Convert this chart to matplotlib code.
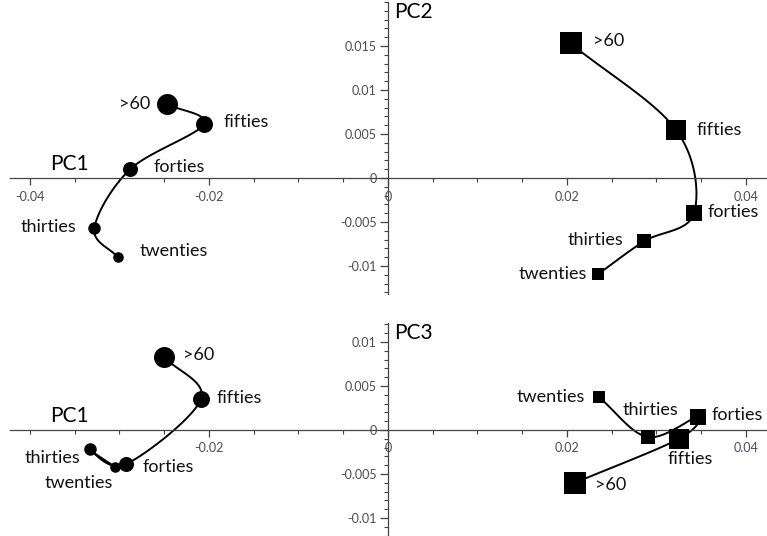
import numpy as np
import matplotlib.pyplot as plt
from matplotlib.ticker import MultipleLocator, FixedLocator, FuncFormatter

plt.rcParams['font.family'] = ['Lato', 'DejaVu Sans']

groups = ['twenties', 'thirties', 'forties', 'fifties', '>60']

# left cluster (circles)
circ_pc1 = [-0.0302, -0.0328, -0.0288, -0.0206, -0.0247]
circ_pc2 = [-0.0090, -0.0057, 0.0010, 0.0061, 0.0084]
circ_pc1b = [-0.0305, -0.0333, -0.0293, -0.0209, -0.0250]
circ_pc3 = [-0.0042, -0.0022, -0.0039, 0.0035, 0.0083]

# right cluster (squares)
sq_pc1 = [0.0235, 0.0286, 0.0342, 0.0322, 0.0204]
sq_pc2 = [-0.0109, -0.0072, -0.0040, 0.00545, 0.0153]
sq_pc1b = [0.0236, 0.0290, 0.0346, 0.0325, 0.0209]
sq_pc3 = [0.0037, -0.0008, 0.0015, -0.0010, -0.0060]

circ_size = [7.6, 9.0, 10.8, 12.2, 15.1]
sq_size = [8.2, 9.8, 12.2, 14.0, 16.0]

xticks_top = [-0.04, -0.02, 0, 0.02, 0.04]
xticks_bottom = [-0.02, 0, 0.02, 0.04]


def smooth(x, y, n=30):
    # catmull-rom through the points
    p = np.column_stack([x, y])
    p = np.vstack([2 * p[0] - p[1], p, 2 * p[-1] - p[-2]])
    out = []
    t = np.linspace(0, 1, n)[:, None]
    for i in range(1, len(p) - 2):
        p0, p1, p2, p3 = p[i - 1], p[i], p[i + 1], p[i + 2]
        seg = 0.5 * ((2 * p1) + (-p0 + p2) * t + (2 * p0 - 5 * p1 + 4 * p2 - p3) * t ** 2
                     + (-p0 + 3 * p1 - 3 * p2 + p3) * t ** 3)
        out.append(seg)
    out = np.vstack(out)
    return out[:, 0], out[:, 1]


def draw(ax, x, y, sizes, marker, offs):
    sx, sy = smooth(x, y)
    ax.plot(sx, sy, color='black', lw=1.4, zorder=2)
    for i in range(len(x)):
        ax.plot(x[i], y[i], marker=marker, ms=sizes[i], color='black', mew=0, zorder=3)
        dx, dy, ha = offs[i]
        ax.annotate(groups[i], (x[i], y[i]), xytext=(dx, dy), textcoords='offset pixels',
                    ha=ha, va='center', fontsize=13, color='#111111')


def setup(ax, ylim, xmajor, ymajor, ylabel):
    ax.set_xlim(-0.04223, 0.04235)
    ax.set_ylim(*ylim)
    for s in ['top', 'right']:
        ax.spines[s].set_visible(False)
    ax.spines['left'].set_position(('data', 0))
    ax.spines['bottom'].set_position(('data', 0))
    ax.spines['left'].set_color('#444444')
    ax.spines['bottom'].set_color('#444444')
    ax.spines['left'].set_linewidth(0.9)
    ax.spines['bottom'].set_linewidth(0.9)
    ax.set_facecolor('none')
    ax.xaxis.set_major_locator(FixedLocator(xmajor))
    ax.xaxis.set_minor_locator(MultipleLocator(0.005))
    ax.yaxis.set_major_locator(FixedLocator(ymajor))
    ax.yaxis.set_minor_locator(MultipleLocator(0.001))
    fmt = FuncFormatter(lambda v, p: '0' if abs(v) < 1e-9 else ('%g' % round(v, 4)))
    ax.xaxis.set_major_formatter(fmt)
    ax.yaxis.set_major_formatter(fmt)
    ax.tick_params(axis='x', which='major', direction='out', length=5, width=0.9,
                   labelsize=9, labelcolor='#4a4a5a', color='#444444', pad=4)
    ax.tick_params(axis='x', which='minor', direction='out', length=3, width=0.8, color='#444444')
    ax.tick_params(axis='y', which='major', direction='out', length=6, width=0.9,
                   labelsize=9, labelcolor='#4a4a5a', color='#444444', pad=2)
    ax.tick_params(axis='y', which='minor', direction='out', length=3, width=0.8, color='#444444')
    ax.annotate('PC1', (-0.0378, 0), xytext=(0, 4), textcoords='offset pixels',
                fontsize=15, ha='left', va='bottom')
    ax.text(0.0007, ylim[1], ylabel, fontsize=15, ha='left', va='top')


fig = plt.figure(figsize=(7.67, 5.36), dpi=100)
ax1 = fig.add_axes([10 / 767, 1 - 294 / 536, 757 / 767, 292 / 536])
ax2 = fig.add_axes([10 / 767, 0, 757 / 767, 213 / 536])

setup(ax1, (-0.01318, 0.0200), xticks_top, [-0.01, -0.005, 0, 0.005, 0.01, 0.015], 'PC2')
setup(ax2, (-0.01205, 0.01216), xticks_bottom, [-0.01, -0.005, 0, 0.005, 0.01], 'PC3')

draw(ax1, circ_pc1, circ_pc2, circ_size, 'o',
     [(22, 6, 'left'), (-18, 1, 'right'), (23, 2, 'left'), (20, 2, 'left'), (-17, 0, 'right')])
draw(ax1, sq_pc1, sq_pc2, sq_size, 's',
     [(-11, 0, 'right'), (-21, 1, 'right'), (14, 1, 'left'), (20, 0, 'left'), (22, 2, 'left')])
draw(ax2, circ_pc1b, circ_pc3, circ_size, 'o',
     [(-2, -16, 'right'), (-10, -9, 'right'), (17, -3, 'left'), (16, 1, 'left'), (19, 2, 'left')])
draw(ax2, sq_pc1b, sq_pc3, sq_size, 's',
     [(-14, 0, 'right'), (-25, 27, 'left'), (14, 2, 'left'), (-11, -20, 'left'), (20, -2, 'left')])

fig.savefig('out.png', dpi=100)
